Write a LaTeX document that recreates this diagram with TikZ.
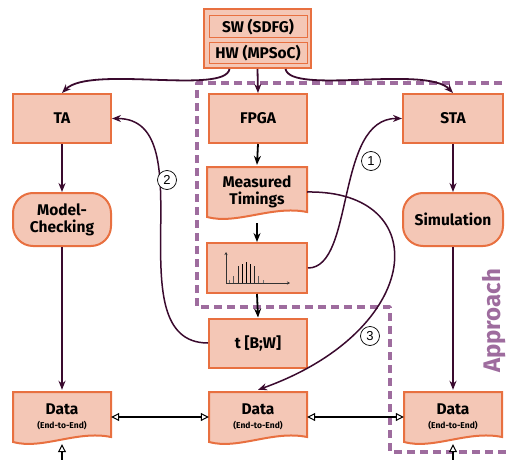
\documentclass[tikz,border=0pt]{standalone}
\usepackage{fontspec}
\setmainfont{Fira Sans}
\newfontfamily\numfont{Liberation Sans}
\usetikzlibrary{arrows.meta,backgrounds}
\definecolor{boxfill}{RGB}{244,199,182}
\definecolor{boxdraw}{RGB}{232,112,64}
\definecolor{conn}{RGB}{58,10,46}
\definecolor{appr}{RGB}{158,108,158}
\newcommand\docbox[5]{% name, x0, ytop, width, text
  \begin{scope}[shift={(#2,#3)}]
    \draw[box] (0,0) -- (#4,0) -- (#4,45) .. controls (0.65*#4,38) and (0.3*#4,58) .. (0,50) -- cycle;
  \end{scope}
  \node[lbl,minimum width=#4pt,minimum height=54pt] (#1) at (#2+0.5*#4,#3+25) {#5};
}
\begin{document}
\begin{tikzpicture}[x=1pt,y=-1pt,
  box/.style={draw=boxdraw,fill=boxfill,line width=2pt},
  lbl/.style={font=\bfseries\fontsize{15.5}{17}\selectfont,align=center,inner sep=0pt},
  rect/.style={box,lbl,minimum width=98pt,minimum height=49pt},
  flow/.style={draw=conn,line width=1.8pt,-{Stealth[length=9pt,width=7pt]}},
  curv/.style={draw=conn,line width=1.5pt,-{Stealth[length=9pt,width=7pt]}},
  num/.style={circle,draw,line width=0.7pt,inner sep=0pt,minimum size=19pt,font=\numfont\fontsize{13}{13}\selectfont,fill=white},
  dataarrow/.style={draw=black,line width=2.2pt,{Triangle[length=8pt,width=8pt,fill=white,line width=1pt]}-{Triangle[length=8pt,width=8pt,fill=white,line width=1pt]}},
  uparrow/.style={draw=black,line width=2.2pt,-{Triangle[length=8pt,width=8pt,fill=white,line width=1pt]}},
  apprline/.style={draw=appr,line width=3.5pt,dash pattern=on 8pt off 5pt,line join=round},
  bar/.style={line width=0.9pt,draw=black!85}
]
\useasboundingbox (0,0) rectangle (506,460);

% approach region
\draw[apprline] (515,83) -- (197,83) -- (197,307) -- (390,307) -- (390,452) -- (515,452);
\node[rotate=90,text=appr,font=\bfseries\fontsize{24}{24}\selectfont,inner sep=0pt] (apprtext) at (494,321) {Approach};

% top box
\node[box,minimum width=107pt,minimum height=59pt,inner sep=0pt] (top) at (257.5,38.5) {};
\node[box,line width=1pt,lbl,minimum width=98pt,minimum height=22pt] (sw) at (258,27) {SW (SDFG)};
\node[box,line width=1pt,lbl,minimum width=98pt,minimum height=21pt] (hw) at (258,53.5) {HW (MPSoC)};

% first row
\node[rect] (ta) at (62,118.5) {TA};
\node[rect] (fpga) at (258,118.5) {FPGA};
\node[rect,minimum width=100pt] (sta) at (453,118.5) {STA};

% second row
\node[rect,rounded corners=20pt,minimum height=53pt] (mc) at (62,219.5) {Model-\\Checking};
\node[rect,rounded corners=20pt,minimum height=53pt,minimum width=100pt] (sim) at (453,219.5) {Simulation};

% measured timings
\docbox{meas}{207}{167}{100}{Measured\\Timings}

% histogram box
\node[rect,minimum width=100pt,minimum height=50pt] (hist) at (257,268) {};
\draw[line width=0.9pt,draw=black!80,-{Stealth[length=3pt,width=3pt]}] (226,283) -- (226,252);
\draw[line width=0.9pt,draw=black!80,-{Stealth[length=3pt,width=3pt]}] (226,283) -- (290,283);
\draw[bar,draw=black!55] (229.7,283) -- (229.7,280);
\draw[bar,draw=black!65] (233.9,283) -- (233.9,276);
\draw[bar] (238.0,283) -- (238.0,266);
\draw[bar,draw=black] (242.2,283) -- (242.2,264);
\draw[bar,draw=black] (246.4,283) -- (246.4,261.5);
\draw[bar,draw=black] (250.5,283) -- (250.5,264);
\draw[bar] (254.7,283) -- (254.7,266);
\draw[bar,draw=black!65] (258.9,283) -- (258.9,276);
\draw[bar,draw=black!55] (263.0,283) -- (263.0,280);

% t[B;W]
\node[rect] (tbw) at (258,343) {t [B;W]};

% data boxes
\docbox{d1}{13}{392}{98}{Data\\[-3pt]{\fontsize{8.5}{9}\selectfont (End-to-End)}}
\docbox{d2}{209}{392}{98}{Data\\[-3pt]{\fontsize{8.5}{9}\selectfont (End-to-End)}}
\docbox{d3}{404}{392}{98}{Data\\[-3pt]{\fontsize{8.5}{9}\selectfont (End-to-End)}}

% connectors
\draw[curv,line width=1.8pt] ([xshift=-28pt]top.south) .. controls (225,95) and (90,65) .. (ta.north);
\draw[curv,line width=1.8pt] ([xshift=28pt]top.south) .. controls (291,95) and (426,65) .. (sta.north);
\draw[flow] (top.south) -- (fpga.north);
\draw[flow] (ta.south) -- (mc.north);
\draw[flow] (mc.south) -- (d1.north);
\draw[flow] (sta.south) -- (sim.north);
\draw[flow] (sim.south) -- (d3.north);
\draw[flow,draw=black] (fpga.south) -- (meas.north);
\draw[flow,draw=black] ([yshift=-4pt]meas.south) -- (hist.north);
\draw[flow,draw=black] (hist.south) -- (tbw.north);

\draw[curv] (hist.east) .. controls (355,268) and (335,118) .. (sta.west);
\draw[curv] (tbw.west) to[out=180,in=0] (ta.east);
\draw[curv] (meas.east) .. controls (435,190) and (425,330) .. (d2.north);

\node[num] (n1) at (371,161) {1};
\node[num] (n2) at (167,180) {2};
\node[num] (n3) at (370,336) {3};

\draw[dataarrow] (d1.east) -- (d2.west);
\draw[dataarrow] (d2.east) -- (d3.west);
\coordinate (b1) at (62,462);
\coordinate (b3) at (453,462);
\draw[uparrow] (b1) -- (d1.south);
\draw[uparrow] (b3) -- (d3.south);
\end{tikzpicture}
\end{document}
